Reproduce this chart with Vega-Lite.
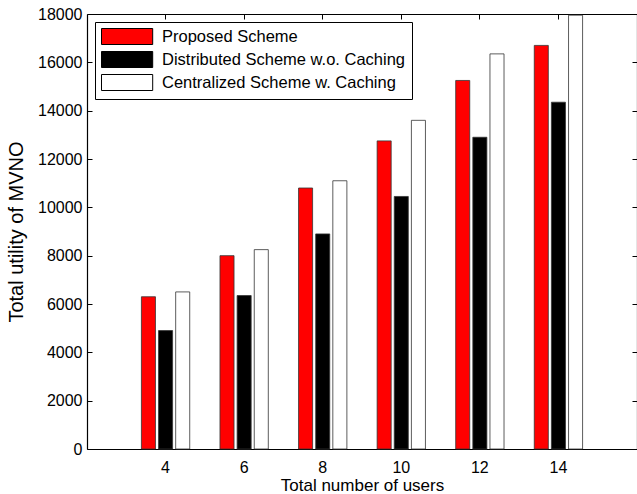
{
  "$schema": "https://vega.github.io/schema/vega-lite/v6.json",
  "autosize": {"type": "none"},
  "padding": {"left": 87, "top": 14, "right": 0, "bottom": 45},
  "width": 550,
  "height": 435,
  "background": "white",
  "config": {
    "font": "Liberation Sans",
    "view": {"stroke": null},
    "axis": {"grid": false, "domainColor": "#000", "tickColor": "#000", "labelColor": "#000", "titleColor": "#000", "labelFont": "Liberation Sans", "titleFont": "Liberation Sans", "titleFontWeight": "normal", "domainWidth": 1.2}
  },
  "data": {"values": [
    {"users": "4", "scheme": "Proposed Scheme", "utility": 6300},
    {"users": "4", "scheme": "Distributed Scheme w.o. Caching", "utility": 4900},
    {"users": "4", "scheme": "Centralized Scheme w. Caching", "utility": 6500},
    {"users": "6", "scheme": "Proposed Scheme", "utility": 8000},
    {"users": "6", "scheme": "Distributed Scheme w.o. Caching", "utility": 6350},
    {"users": "6", "scheme": "Centralized Scheme w. Caching", "utility": 8250},
    {"users": "8", "scheme": "Proposed Scheme", "utility": 10800},
    {"users": "8", "scheme": "Distributed Scheme w.o. Caching", "utility": 8900},
    {"users": "8", "scheme": "Centralized Scheme w. Caching", "utility": 11100},
    {"users": "10", "scheme": "Proposed Scheme", "utility": 12750},
    {"users": "10", "scheme": "Distributed Scheme w.o. Caching", "utility": 10450},
    {"users": "10", "scheme": "Centralized Scheme w. Caching", "utility": 13600},
    {"users": "12", "scheme": "Proposed Scheme", "utility": 15250},
    {"users": "12", "scheme": "Distributed Scheme w.o. Caching", "utility": 12900},
    {"users": "12", "scheme": "Centralized Scheme w. Caching", "utility": 16350},
    {"users": "14", "scheme": "Proposed Scheme", "utility": 16700},
    {"users": "14", "scheme": "Distributed Scheme w.o. Caching", "utility": 14350},
    {"users": "14", "scheme": "Centralized Scheme w. Caching", "utility": 17950}
  ]},
  "layer": [
    {
      "mark": {"type": "bar", "stroke": "#333", "strokeWidth": 0.8},
      "encoding": {
        "x": {"field": "users", "type": "ordinal", "sort": ["4", "6", "8", "10", "12", "14"],
              "scale": {"paddingInner": 0.385, "paddingOuter": 0.6925},
              "axis": {"orient": "bottom", "title": "Total number of users", "labelAngle": 0, "ticks": false, "labelFontSize": 16, "labelPadding": 10, "titleFontSize": 17, "titlePadding": 2}},
        "xOffset": {"field": "scheme", "type": "nominal",
                    "sort": ["Proposed Scheme", "Distributed Scheme w.o. Caching", "Centralized Scheme w. Caching"],
                    "scale": {"paddingInner": 0.18, "paddingOuter": 0}},
        "y": {"field": "utility", "type": "quantitative",
              "scale": {"domain": [0, 18000], "nice": false},
              "axis": {"orient": "left", "title": "Total utility of MVNO", "values": [0, 2000, 4000, 6000, 8000, 10000, 12000, 14000, 16000, 18000], "format": "d", "tickSize": -5, "labelPadding": 10, "labelFontSize": 16, "titleFontSize": 20, "titlePadding": 11}},
        "fill": {"field": "scheme", "type": "nominal",
                 "sort": ["Proposed Scheme", "Distributed Scheme w.o. Caching", "Centralized Scheme w. Caching"],
                 "scale": {"domain": ["Proposed Scheme", "Distributed Scheme w.o. Caching", "Centralized Scheme w. Caching"], "range": ["#ff0000", "#000000", "#ffffff"]},
                 "legend": {"title": null, "orient": "none", "legendX": 8, "legendY": 8, "direction": "vertical",
                            "strokeColor": "#000", "fillColor": "#fff", "padding": 6,
                            "symbolType": "M-1,-1L5.4,-1L5.4,1L-1,1Z", "symbolSize": 256,
                            "symbolStrokeColor": "#000", "symbolStrokeWidth": 1, "symbolOpacity": 1,
                            "labelFontSize": 16.5, "labelColor": "#000", "labelFont": "Liberation Sans", "labelOffset": 44, "rowPadding": 2, "labelLimit": 400}}
      }
    },
    {
      "mark": {"type": "bar", "opacity": 0},
      "encoding": {
        "x": {"field": "users", "type": "ordinal", "sort": ["4", "6", "8", "10", "12", "14"],
              "axis": {"orient": "top", "title": null, "labels": false, "tickSize": -5}},
        "xOffset": {"field": "scheme", "type": "nominal",
                    "sort": ["Proposed Scheme", "Distributed Scheme w.o. Caching", "Centralized Scheme w. Caching"]},
        "y": {"field": "utility", "type": "quantitative",
              "axis": {"orient": "right", "title": null, "labels": false, "values": [0, 2000, 4000, 6000, 8000, 10000, 12000, 14000, 16000, 18000], "tickSize": -5}}
      }
    }
  ],
  "resolve": {"axis": {"x": "independent", "y": "independent"}}
}
